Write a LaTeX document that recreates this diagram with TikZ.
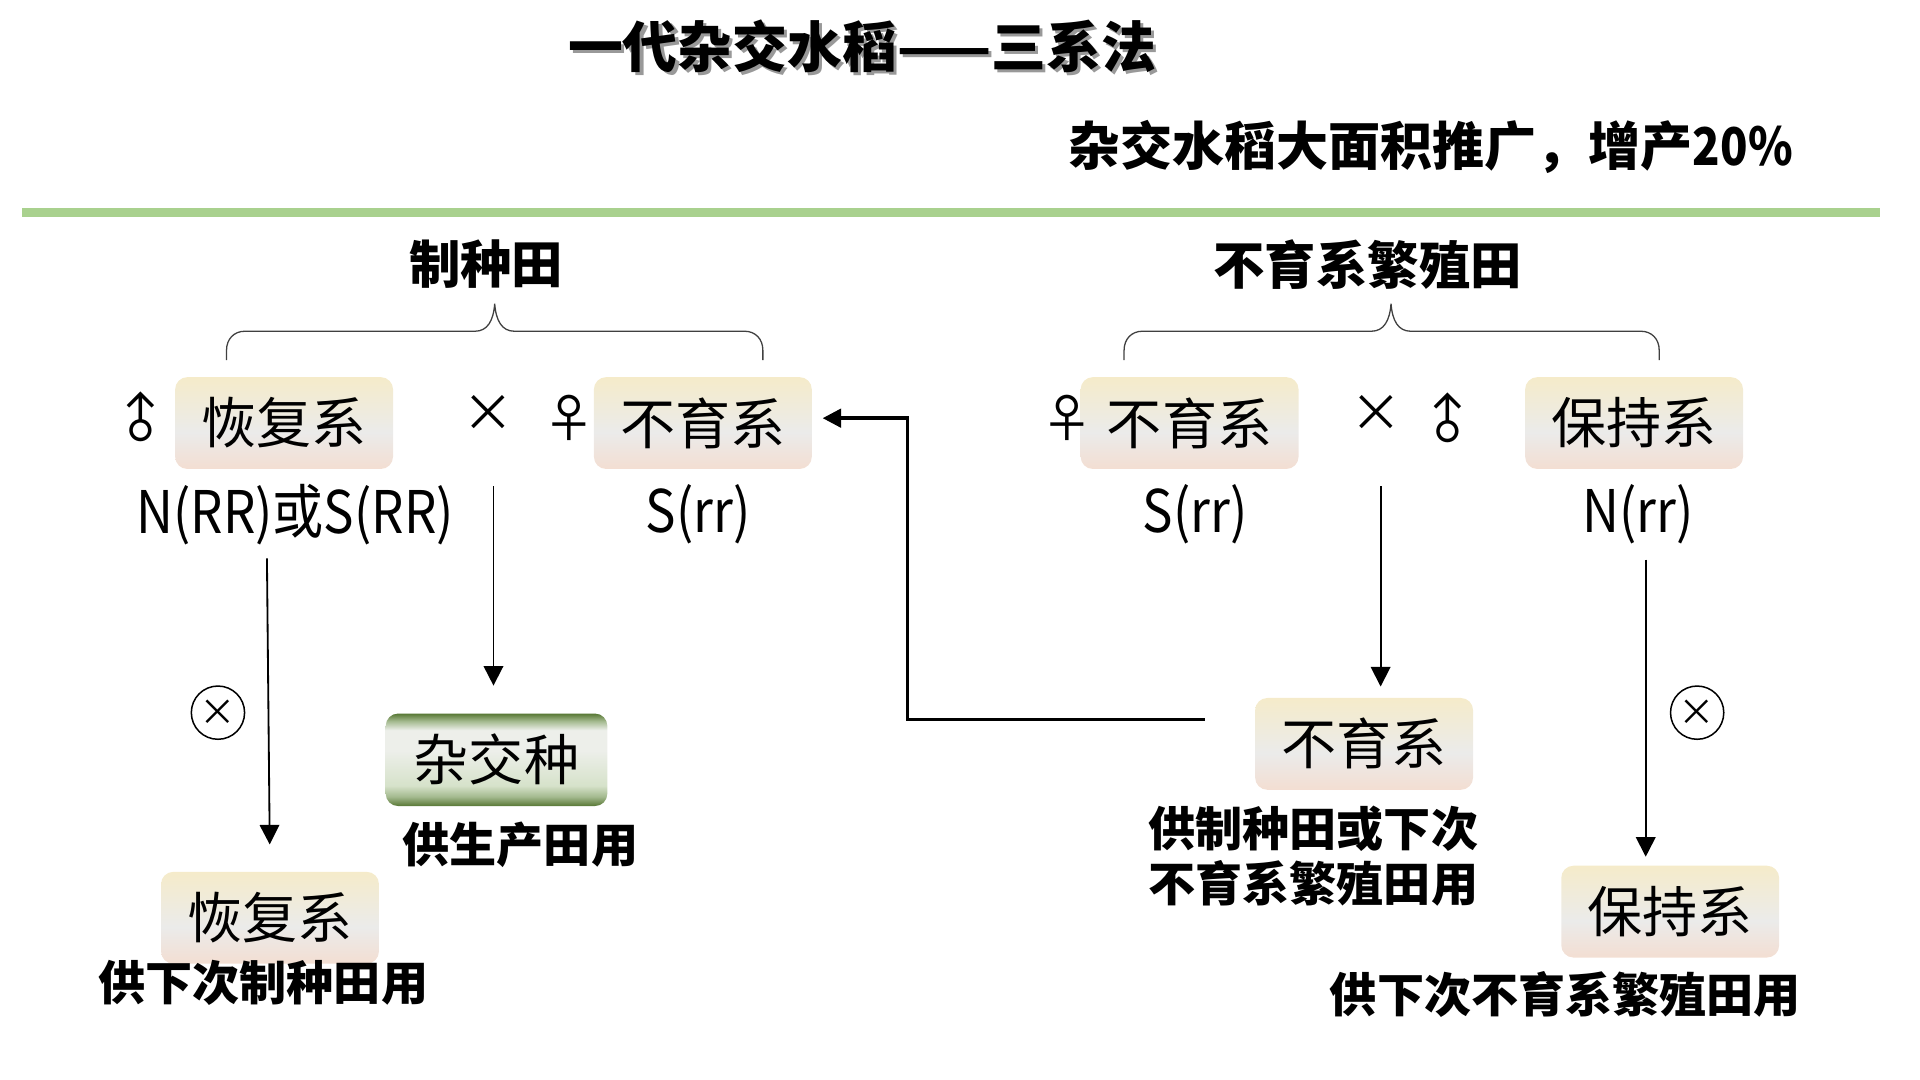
\documentclass[tikz,border=0pt]{standalone}
\usepackage{fontspec}
\setmainfont{Noto Sans CJK SC}
\newfontfamily\narrowfont{Noto Sans CJK SC}[FakeStretch=0.87]
\usetikzlibrary{arrows.meta}

\definecolor{rulegreen}{HTML}{A9D18E}
\definecolor{boxtop}{HTML}{F5EBCA}
\definecolor{boxmid}{HTML}{EBEBEA}
\definecolor{boxbot}{HTML}{F3DED2}
\definecolor{hydark}{HTML}{587835}
\definecolor{hyedge}{HTML}{A3B98E}
\definecolor{hylight}{HTML}{EDEFEA}
\definecolor{hymid}{HTML}{D6E2CA}

\pgfdeclareverticalshading{lineshade}{100bp}{color(0bp)=(boxbot); color(25bp)=(boxbot); color(45bp)=(boxmid); color(75bp)=(boxtop); color(100bp)=(boxtop)}
\pgfdeclareverticalshading{hyshade}{100bp}{color(0bp)=(hydark); color(25bp)=(hydark); color(30bp)=(hyedge); color(36bp)=(hymid); color(55bp)=(hylight); color(66bp)=(hylight); color(71bp)=(hyedge); color(75bp)=(hydark); color(100bp)=(hydark)}

\begin{document}
\begin{tikzpicture}[x=0.02cm,y=-0.02cm,
    every node/.style={inner sep=0pt},
    linebox/.style={shade,shading=lineshade,rounded corners=0.2cm,minimum width=3.56cm,minimum height=1.5cm,font=\fontsize{25.6}{28}\selectfont},
    hybox/.style={linebox,shading=hyshade,minimum width=3.62cm,minimum height=1.51cm},
    title/.style={font=\bfseries\fontsize{25.5}{28}\selectfont},
    gain/.style={font=\bfseries\fontsize{24.2}{28}\selectfont},
    head/.style={font=\bfseries\fontsize{23.9}{28}\selectfont},
    geno/.style={font=\narrowfont\fontsize{27.3}{30}\selectfont},
    note/.style={font=\bfseries\fontsize{21.9}{25.6}\selectfont},
    sex/.style={font=\fontsize{24}{26}\selectfont},
    selfing/.style={circle,draw,line width=0.7pt,minimum size=0.87cm,font=\fontsize{17}{17}\selectfont},
    arr/.style={line width=0.85pt,-{Triangle[width=0.32cm,length=0.32cm]}},
    fbline/.style={line width=1.6pt,-{Triangle[width=0.3cm,length=0.3cm]}},
    brace/.style={line width=0.6pt,black!75}]
\useasboundingbox (0,0) rectangle (1568,882);

% title
\node[title,text=black!40] at (706.5,40.5) {一代杂交水稻——三系法};
\node[title] (title) at (704,38) {一代杂交水稻——三系法};
\node[gain,anchor=west] (gain) at (872,120) {杂交水稻大面积推广，增产{\narrowfont 20\%}};
\draw[rulegreen,line width=4pt] (18,173.5) -- (1535,173.5);

% fields
\node[head] (seedfield) at (397,216) {制种田};
\node[head] (sterfield) at (1117,216) {不育系繁殖田};
\draw[brace] (185,294) -- (185,286) .. controls (185,277) and (191,270.5) .. (200,270.5) -- (388,270.5)
    .. controls (398,270.5) and (403,262) .. (404,248) .. controls (405,262) and (410,270.5) .. (420,270.5)
    -- (608,270.5) .. controls (617,270.5) and (623,277) .. (623,286) -- (623,294);
\draw[brace] (918,294) -- (918,286) .. controls (918,277) and (924,270.5) .. (933,270.5) -- (1120,270.5)
    .. controls (1130,270.5) and (1135,262) .. (1136,248) .. controls (1137,262) and (1142,270.5) .. (1152,270.5)
    -- (1340,270.5) .. controls (1349,270.5) and (1355,277) .. (1355,286) -- (1355,294);

% parents
\node[linebox] (restA) at (232,345.5) {恢复系};
\node[linebox] (sterA) at (574,345.5) {不育系};
\node[linebox] (sterB) at (971.5,345.5) {不育系};
\node[linebox] (maintA) at (1334.5,345.5) {保持系};
\node[sex,rotate=45] (maleA) at (115,342) {♂};
\node[sex] (crossA) at (399,338) {×};
\node[sex] (femA) at (465,341) {♀};
\node[sex] (femB) at (872,341) {♀};
\node[sex] (crossB) at (1124,338) {×};
\node[sex,rotate=45] (maleB) at (1183,343) {♂};
\node[geno] (genoA) at (241,420) {N(RR)或S(RR)};
\node[geno] (genoB) at (570,420) {S(rr)};
\node[geno] (genoC) at (976,420) {S(rr)};
\node[geno] (genoD) at (1337.5,420) {N(rr)};

% offspring
\node[hybox] (hybrid) at (405.5,620.5) {杂交种};
\node[linebox] (sterC) at (1114,607.5) {不育系};
\node[linebox] (restB) at (220.5,749.5) {恢复系};
\node[linebox] (maintB) at (1364,744.5) {保持系};
\node[selfing] (selfA) at (178,582) {×};
\node[selfing] (selfB) at (1386,582) {×};
\node[note] (useA) at (425,690) {供生产田用};
\node[note] (useB) at (215,803) {供下次制种田用};
\node[note,align=left] (useC) at (1072.5,699.5) {供制种田或下次\\不育系繁殖田用};
\node[note] (useD) at (1278.5,812) {供下次不育系繁殖田用};

% arrows
\coordinate (fromA) at (218,456);
\coordinate (fromB) at (403,397);
\coordinate (fromC) at (1127.5,397);
\coordinate (fromD) at (1344,457);
\coordinate (backC) at (984,587.5);
\draw[arr,shorten >=0.44cm] (fromA) -- (restB.north);
\draw[arr,shorten >=0.45cm] (fromB) -- (fromB |- hybrid.north);
\draw[arr,shorten >=0.18cm] (fromC) -- (fromC |- sterC.north);
\draw[arr,shorten >=0.14cm] (fromD) -- (fromD |- maintB.north);
\draw[fbline,shorten >=0.17cm] (backC) -- (741,587.5) |- ([yshift=0.08cm]sterA.east);
\end{tikzpicture}
\end{document}
